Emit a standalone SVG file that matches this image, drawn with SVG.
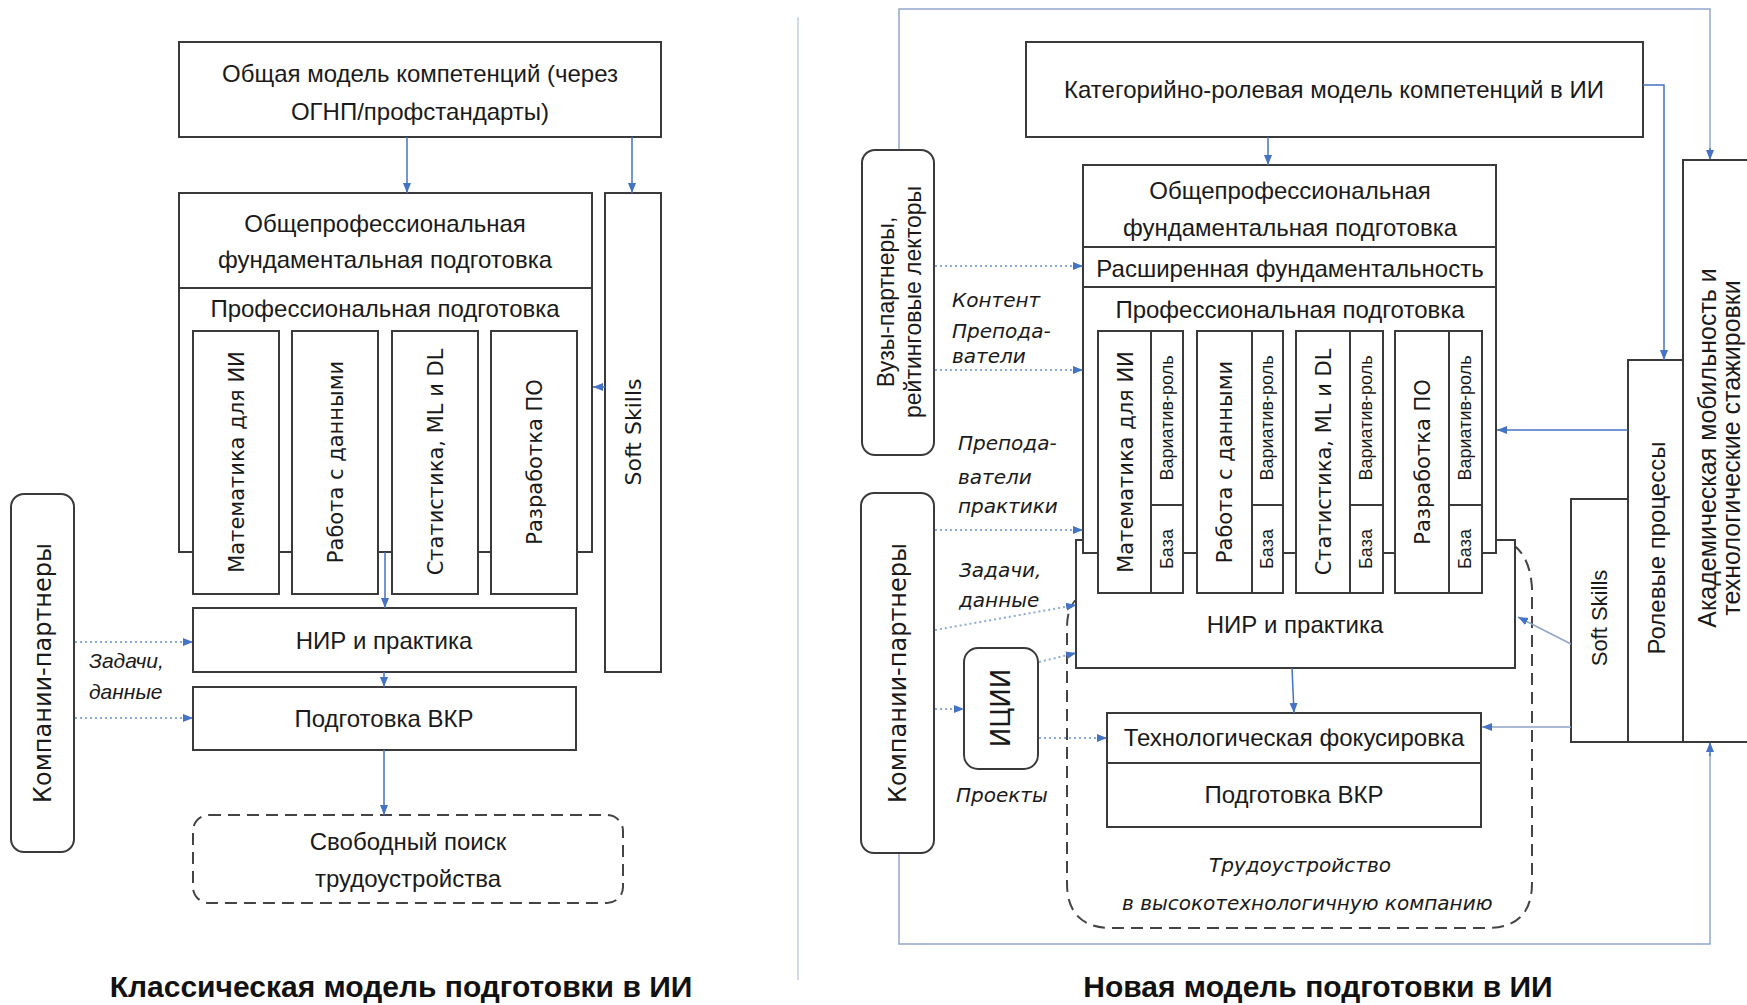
<svg xmlns="http://www.w3.org/2000/svg" width="1747" height="1005" viewBox="0 0 1747 1005">
<defs>
<marker id="ah" viewBox="0 0 10 10" refX="10" refY="5" markerWidth="10" markerHeight="10" markerUnits="userSpaceOnUse" orient="auto"><path d="M0,1 L10,5 L0,9 z" fill="#4472c4"/></marker>
<style>
.box{fill:#fff;stroke:#3a3a3a;stroke-width:2}
.ln{fill:none;stroke:#3a3a3a;stroke-width:2}
.dash{fill:none;stroke:#444;stroke-width:2;stroke-dasharray:12 7}
.arr{fill:none;stroke:#4472c4;stroke-width:1.5;marker-end:url(#ah)}
.frm{fill:none;stroke:#93a6cc;stroke-width:1.5}
.dot{fill:none;stroke:#8eaadb;stroke-width:2;stroke-dasharray:2 3;marker-end:url(#ah)}
text{fill:#1a1a1a}
.t{font-family:"Liberation Sans",Arial,sans-serif;font-size:24px;text-anchor:middle}
.v{font-family:"DejaVu Sans",Verdana,sans-serif;font-size:21px;text-anchor:middle}
.s{font-family:"Liberation Sans",Arial,sans-serif;font-size:18px;text-anchor:middle}
.il{font-family:"Liberation Sans",Arial,sans-serif;font-size:21px;font-style:italic}
.ir{font-family:"DejaVu Sans",Verdana,sans-serif;font-size:20px;font-style:oblique}
.ttl{font-family:"Liberation Sans",Arial,sans-serif;font-size:30px;font-weight:bold;text-anchor:middle;fill:#111}
</style>
</defs>
<rect width="1747" height="1005" fill="#fff"/>

<!-- divider -->
<line x1="798" y1="17" x2="798" y2="980" stroke="#c5cde0" stroke-width="1.5"/>

<!-- ===== LEFT: classic model ===== -->
<g id="l-competence">
<rect class="box" x="179" y="42" width="482" height="95"/>
<text class="t" x="420" y="82">Общая модель компетенций (через</text>
<text class="t" x="420" y="120">ОГНП/профстандарты)</text>
</g>
<g id="l-general">
<rect class="box" x="179" y="193" width="413" height="359"/>
<line class="ln" x1="179" y1="288" x2="592" y2="288"/>
<text class="t" x="385" y="232">Общепрофессиональная</text>
<text class="t" x="385" y="268">фундаментальная подготовка</text>
<text class="t" x="385" y="317">Профессиональная подготовка</text>
</g>
<g id="l-col1"><rect class="box" x="193" y="331" width="86" height="263"/><text class="v" transform="translate(236,462) rotate(-90)" dy="0.36em">Математика для ИИ</text></g>
<g id="l-col2"><rect class="box" x="292" y="331" width="86" height="263"/><text class="v" transform="translate(335,462) rotate(-90)" dy="0.36em">Работа с данными</text></g>
<g id="l-col3"><rect class="box" x="392" y="331" width="86" height="263"/><text class="v" transform="translate(435,462) rotate(-90)" dy="0.36em">Статистика, ML и DL</text></g>
<g id="l-col4"><rect class="box" x="491" y="331" width="86" height="263"/><text class="v" transform="translate(534,462) rotate(-90)" dy="0.36em">Разработка ПО</text></g>
<g id="l-soft">
<rect class="box" x="605" y="193" width="56" height="479"/>
<text class="v" style="font-size:22px" transform="translate(633,432) rotate(-90)" dy="0.36em">Soft Skills</text>
</g>
<g id="l-nir">
<rect class="box" x="193" y="608" width="383" height="64"/>
<text class="t" x="384" y="649">НИР и практика</text>
</g>
<g id="l-vkr">
<rect class="box" x="193" y="687" width="383" height="63"/>
<text class="t" x="384" y="727">Подготовка ВКР</text>
</g>
<g id="l-job">
<rect class="dash" x="193" y="815" width="430" height="88" rx="16"/>
<text class="t" x="408" y="850">Свободный поиск</text>
<text class="t" x="408" y="887">трудоустройства</text>
</g>
<g id="l-companies">
<rect class="box" x="11" y="494" width="63" height="358" rx="13"/>
<text class="v" style="font-size:24px" transform="translate(42,673) rotate(-90)" dy="0.36em">Компании-партнеры</text>
</g>
<g id="l-connectors">
<line class="arr" x1="407" y1="137" x2="407" y2="193"/>
<line class="arr" x1="632" y1="137" x2="632" y2="193"/>
<line class="arr" x1="605" y1="387" x2="593" y2="387"/>
<line class="arr" x1="385" y1="552" x2="385" y2="608"/>
<line class="arr" x1="384" y1="672" x2="384" y2="687"/>
<line class="arr" x1="384" y1="750" x2="384" y2="815"/>
<line class="dot" x1="75" y1="642" x2="193" y2="642"/>
<line class="dot" x1="75" y1="718" x2="193" y2="718"/>
<text class="il" x="89" y="668">Задачи,</text>
<text class="il" x="89" y="699">данные</text>
</g>
<text class="ttl" x="401" y="997">Классическая модель подготовки в ИИ</text>

<!-- ===== RIGHT: new model ===== -->
<g id="r-frame-connectors">
<polyline class="frm" points="899,150 899,9 1710,9 1710,150"/>
<line class="arr" x1="1710" y1="148" x2="1710" y2="160"/>
<polyline class="frm" points="899,853 899,944 1710,944 1710,754"/>
<line class="arr" x1="1710" y1="756" x2="1710" y2="742"/>
</g>

<g id="r-employment">
<path class="dash" d="M1078,598 Q1067,606 1067,628 L1067,883 Q1067,928 1112,928 L1487,928 Q1532,928 1532,883 L1532,588 Q1530,556 1512,544"/>
<text class="ir" x="1300" y="872" text-anchor="middle">Трудоустройство</text>
<text class="ir" x="1122" y="910">в высокотехнологичную компанию</text>
</g>

<g id="r-competence">
<rect class="box" x="1026" y="42" width="617" height="95"/>
<text class="t" x="1334" y="98">Категорийно-ролевая модель компетенций в ИИ</text>
</g>
<g id="r-nir">
<rect class="box" x="1076" y="540" width="439" height="128"/>
<text class="t" x="1295" y="633">НИР и практика</text>
</g>
<g id="r-general">
<rect class="box" x="1083" y="165" width="413" height="388"/>
<line class="ln" x1="1083" y1="247" x2="1496" y2="247"/>
<line class="ln" x1="1083" y1="287" x2="1496" y2="287"/>
<text class="t" x="1290" y="199">Общепрофессиональная</text>
<text class="t" x="1290" y="236">фундаментальная подготовка</text>
<text class="t" x="1290" y="277">Расширенная фундаментальность</text>
<text class="t" x="1290" y="318">Профессиональная подготовка</text>
</g>
<g id="r-col1">
<rect class="box" x="1098" y="331" width="85" height="262"/>
<line class="ln" x1="1151" y1="331" x2="1151" y2="593"/><line class="ln" x1="1151" y1="505" x2="1183" y2="505"/>
<text class="v" transform="translate(1125,462) rotate(-90)" dy="0.36em">Математика для ИИ</text>
<text class="s" transform="translate(1167,418) rotate(-90)" dy="0.36em">Вариатив-роль</text>
<text class="s" transform="translate(1167,549) rotate(-90)" dy="0.36em">База</text>
</g>
<g id="r-col2">
<rect class="box" x="1197" y="331" width="86" height="262"/>
<line class="ln" x1="1252" y1="331" x2="1252" y2="593"/><line class="ln" x1="1252" y1="505" x2="1283" y2="505"/>
<text class="v" transform="translate(1224,462) rotate(-90)" dy="0.36em">Работа с данными</text>
<text class="s" transform="translate(1267,418) rotate(-90)" dy="0.36em">Вариатив-роль</text>
<text class="s" transform="translate(1267,549) rotate(-90)" dy="0.36em">База</text>
</g>
<g id="r-col3">
<rect class="box" x="1296" y="331" width="87" height="262"/>
<line class="ln" x1="1350" y1="331" x2="1350" y2="593"/><line class="ln" x1="1350" y1="505" x2="1383" y2="505"/>
<text class="v" transform="translate(1323,462) rotate(-90)" dy="0.36em">Статистика, ML и DL</text>
<text class="s" transform="translate(1366,418) rotate(-90)" dy="0.36em">Вариатив-роль</text>
<text class="s" transform="translate(1366,549) rotate(-90)" dy="0.36em">База</text>
</g>
<g id="r-col4">
<rect class="box" x="1395" y="331" width="87" height="262"/>
<line class="ln" x1="1449" y1="331" x2="1449" y2="593"/><line class="ln" x1="1449" y1="505" x2="1482" y2="505"/>
<text class="v" transform="translate(1422,462) rotate(-90)" dy="0.36em">Разработка ПО</text>
<text class="s" transform="translate(1465,418) rotate(-90)" dy="0.36em">Вариатив-роль</text>
<text class="s" transform="translate(1465,549) rotate(-90)" dy="0.36em">База</text>
</g>
<g id="r-tech">
<rect class="box" x="1107" y="713" width="374" height="114"/>
<line class="ln" x1="1107" y1="763" x2="1481" y2="763"/>
<text class="t" x="1294" y="746">Технологическая фокусировка</text>
<text class="t" x="1294" y="803">Подготовка ВКР</text>
</g>
<g id="r-universities">
<rect class="box" x="862" y="150" width="72" height="305" rx="13"/>
<text class="t" style="font-size:23px" transform="translate(886,302) rotate(-90)" dy="0.36em">Вузы-партнеры,</text>
<text class="t" style="font-size:23px" transform="translate(913,302) rotate(-90)" dy="0.36em">рейтинговые лекторы</text>
</g>
<g id="r-companies">
<rect class="box" x="861" y="493" width="73" height="360" rx="13"/>
<text class="v" style="font-size:24px" transform="translate(897,673) rotate(-90)" dy="0.36em">Компании-партнеры</text>
</g>
<g id="r-icii">
<rect class="box" x="964" y="648" width="74" height="121" rx="14"/>
<text class="v" style="font-size:26px" transform="translate(1001,708) rotate(-90)" dy="0.36em">ИЦИИ</text>
</g>
<g id="r-academic">
<rect class="box" x="1683" y="160" width="80" height="582"/>
<text class="t" style="font-size:25px" transform="translate(1707,448) rotate(-90)" dy="0.36em">Академическая мобильность и</text>
<text class="t" style="font-size:25px" transform="translate(1731,448) rotate(-90)" dy="0.36em">технологические стажировки</text>
</g>
<g id="r-roles">
<rect class="box" x="1628" y="360" width="55" height="382"/>
<text class="t" transform="translate(1656,548) rotate(-90)" dy="0.36em">Ролевые процессы</text>
</g>
<g id="r-soft">
<rect class="box" x="1571" y="499" width="57" height="243"/>
<text class="t" style="font-size:22px" transform="translate(1599,618) rotate(-90)" dy="0.36em">Soft Skills</text>
</g>

<g id="r-connectors">
<line class="arr" x1="1268" y1="137" x2="1268" y2="165"/>
<polyline class="arr" points="1643,85 1664,85 1664,360"/>
<line class="arr" x1="1628" y1="430" x2="1497" y2="430"/>
<line class="arr" style="stroke:#8fa3c8" x1="1571" y1="644" x2="1518" y2="617"/>
<line class="arr" style="stroke:#8fa3c8" x1="1571" y1="727" x2="1482" y2="727"/>
<line class="arr" x1="1292" y1="668" x2="1294" y2="713"/>
<line class="dot" x1="935" y1="266" x2="1083" y2="266"/>
<line class="dot" x1="935" y1="370" x2="1083" y2="370"/>
<line class="dot" x1="935" y1="530" x2="1083" y2="530"/>
<line class="dot" x1="935" y1="630" x2="1076" y2="605"/>
<line class="dot" x1="1039" y1="662" x2="1076" y2="653"/>
<line class="dot" x1="935" y1="709" x2="964" y2="709"/>
<line class="dot" x1="1039" y1="738" x2="1107" y2="738"/>
<text class="ir" x="952" y="307">Контент</text>
<text class="ir" x="952" y="338">Препода-</text>
<text class="ir" x="952" y="363">ватели</text>
<text class="ir" x="958" y="450">Препода-</text>
<text class="ir" x="958" y="484">ватели</text>
<text class="ir" x="958" y="513">практики</text>
<text class="ir" x="959" y="577">Задачи,</text>
<text class="ir" x="959" y="607">данные</text>
<text class="ir" x="956" y="802">Проекты</text>
</g>
<text class="ttl" x="1318" y="997">Новая модель подготовки в ИИ</text>
</svg>
